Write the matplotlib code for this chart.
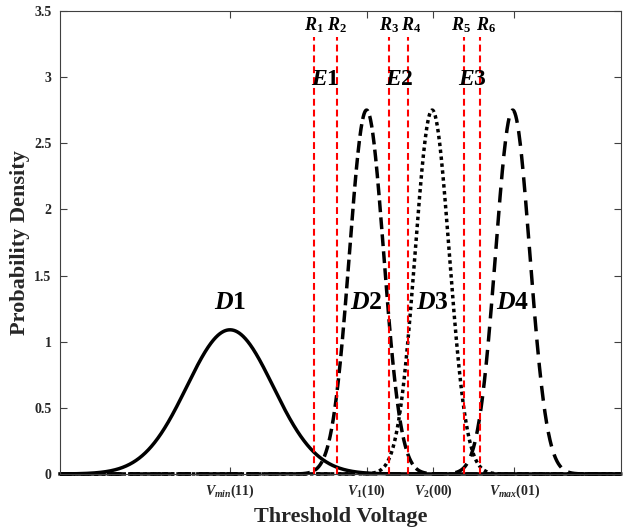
import numpy as np
import matplotlib
matplotlib.use('Agg')
import matplotlib.pyplot as plt

plt.rcParams['font.family'] = 'Liberation Serif'
plt.rcParams['font.weight'] = 'bold'
plt.rcParams['axes.labelweight'] = 'bold'
plt.rcParams['mathtext.fontset'] = 'custom'
plt.rcParams['mathtext.rm'] = 'Liberation Serif:bold'
plt.rcParams['mathtext.it'] = 'Liberation Serif:italic:bold'
plt.rcParams['mathtext.bf'] = 'Liberation Serif:bold'

# threshold voltage distributions of the four states
names = ['D1', 'D2', 'D3', 'D4']
means = [1.44, 2.597, 3.153, 3.835]
sigmas = [0.366, 0.145, 0.145, 0.145]

# read reference voltages
ref_names = ['R_1', 'R_2', 'R_3', 'R_4', 'R_5', 'R_6']
ref_v = [2.155, 2.345, 2.791, 2.952, 3.426, 3.559]
err_names = ['E1', 'E2', 'E3']

tick_v = [1.44, 2.60, 3.16, 3.85]
tick_lbl = [r'$V_{min}$(11)', r'$V_1$(10)', r'$V_2$(00)', r'$V_{max}$(01)']
ytick_v = [0, 0.5, 1, 1.5, 2, 2.5, 3, 3.5]
ytick_lbl = ['0', '0.5', '1', '1.5', '2', '2.5', '3', '3.5']

xmin, xmax = 0.0, 4.75
txt = '#262626'

fig = plt.figure(figsize=(6.29, 5.30), dpi=100)
ax = fig.add_axes([0.0954, 0.1057, 0.8914, 0.8735])

x = np.linspace(xmin, xmax, 2000)
styles = [dict(ls='-'), dict(dashes=[3.4, 1.5]), dict(dashes=[1.0, 1.0]), dict(dashes=[4.3, 2.4])]
for m, s, st in zip(means, sigmas, styles):
    y = np.exp(-0.5 * ((x - m) / s) ** 2) / (s * np.sqrt(2 * np.pi))
    ax.plot(x, y, color='k', lw=2.5, clip_on=False, **st)

for v in ref_v:
    ax.plot([v, v], [0, 3.30], color='red', lw=1.5, dashes=[3.3, 1.9])

# last pair sits close together, nudge the labels apart
lbl_shift = [0, 0, 0, 0.02, -0.03, 0.05]
for v, n, d in zip(ref_v, ref_names, lbl_shift):
    ax.text(v + d, 3.356, '$%s$' % n, ha='center', va='baseline', fontsize=13, color='k')

for i, n in enumerate(err_names):
    xc = (ref_v[2 * i] + ref_v[2 * i + 1]) / 2
    ax.text(xc, 2.94, '$%s$' % n, ha='center', va='baseline', fontsize=17, color='k')

for m, n in zip(means, names):
    ax.text(m, 1.247, '$%s$' % n, ha='center', va='baseline', fontsize=18.5, color='k')

ax.set_xlim(xmin, xmax)
ax.set_ylim(0, 3.5)
ax.set_xticks(tick_v)
ax.set_xticklabels(tick_lbl, fontsize=10, color=txt)
ax.set_yticks(ytick_v)
ax.set_yticklabels(ytick_lbl, fontsize=10, color=txt)
ax.tick_params(direction='in', top=True, right=True, length=5, width=0.8, color='#404040', pad=6)
for sp in ax.spines.values():
    sp.set_color('#404040')
    sp.set_linewidth(0.8)

ax.set_xlabel('Threshold Voltage', fontsize=16, color=txt, labelpad=5)
ax.set_ylabel('Probability Density', fontsize=16, color=txt, labelpad=3)

fig.savefig('out.png', dpi=100)
